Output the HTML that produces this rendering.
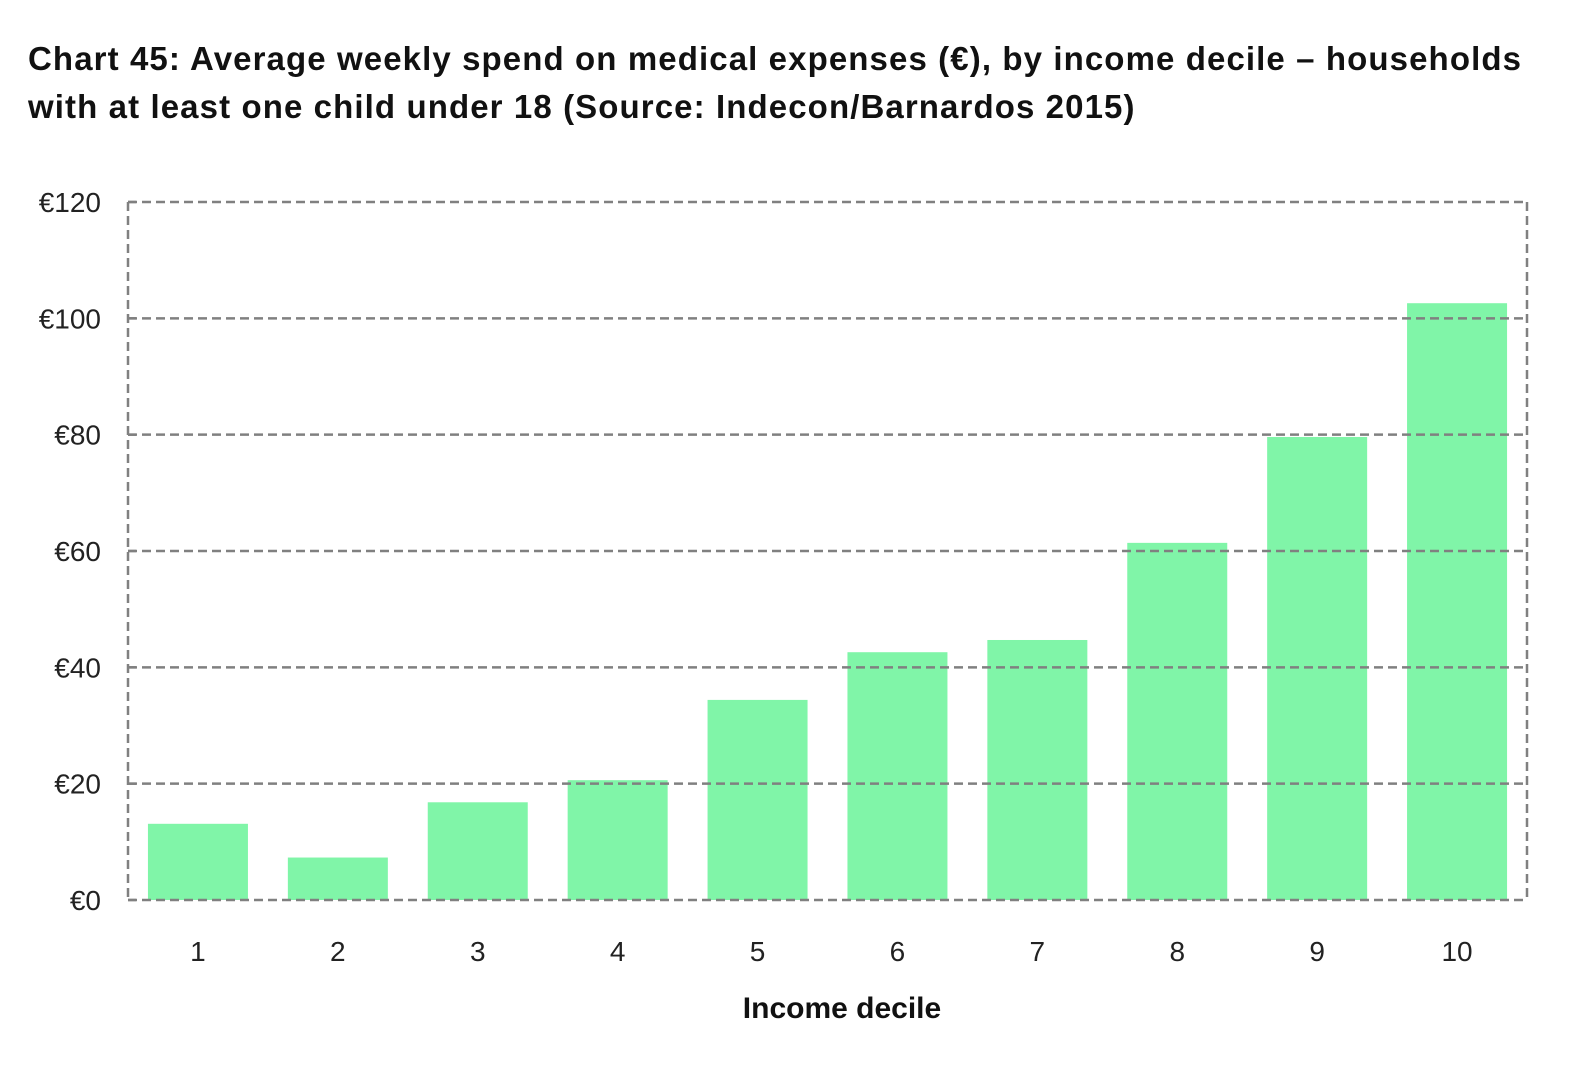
<!DOCTYPE html>
<html><head><meta charset="utf-8"><style>
body{margin:0;background:#fff;width:1583px;height:1080px;overflow:hidden;font-family:"Liberation Sans",sans-serif}
#title{position:absolute;left:28px;top:35px;font-size:33px;font-weight:bold;line-height:48px;color:#111;letter-spacing:1.1px;white-space:nowrap}
</style></head><body>
<div id="title">Chart 45: Average weekly spend on medical expenses (€), by income decile – households<br>with at least one child under 18 (Source: Indecon/Barnardos 2015)</div>
<svg id="chart" width="1583" height="1080" style="position:absolute;left:0;top:0"></svg>
<script>
const categories=["1","2","3","4","5","6","7","8","9","10"];
const values=[13.1,7.3,16.8,20.6,34.4,42.6,44.7,61.4,79.6,102.6];
const yTicks=[0,20,40,60,80,100,120];
const yTickLabels=["€0","€20","€40","€60","€80","€100","€120"];
const svg=document.getElementById('chart');
const NS='http://www.w3.org/2000/svg';
const L=128,R=1527,T=202,B=900,yMax=120;
const y=v=>B-(v/yMax)*(B-T);
const slot=(R-L)/categories.length;
const x=i=>L+slot*(i+0.5);
function mk(tag,attrs){const e=document.createElementNS(NS,tag);for(const k in attrs)e.setAttribute(k,attrs[k]);svg.appendChild(e);return e;}
const dash={stroke:'#808080','stroke-width':2.5,'stroke-dasharray':'9 5',fill:'none'};
values.forEach((v,i)=>{
  const r=mk('rect',{x:x(i)-50,y:y(v),width:100,height:B-y(v),fill:'#80f5a8'});
  
  
});
yTicks.forEach((t,i)=>{
  const g=mk('line',Object.assign({x1:L,x2:R,y1:y(t),y2:y(t)},dash));
  
  
  const tk=mk('line',{x1:L,x2:L+8,y1:y(t),y2:y(t),stroke:'#808080','stroke-width':2.5});
  
  
  const tx=mk('text',{x:101,y:y(t)+10,'text-anchor':'end','font-size':28,fill:'#222','font-family':'Liberation Sans, sans-serif'});
  tx.textContent=yTickLabels[i];
  
  
});
const lf=mk('line',Object.assign({x1:L,x2:L,y1:T,y2:B},dash));


const rf=mk('line',Object.assign({x1:R,x2:R,y1:T,y2:B},dash));


categories.forEach((c,i)=>{
  const tx=mk('text',{x:x(i),y:961,'text-anchor':'middle','font-size':28,fill:'#222','font-family':'Liberation Sans, sans-serif'});
  tx.textContent=c;
  
  
});
const xt=mk('text',{x:842,y:1018,'text-anchor':'middle','font-size':30,'font-weight':'bold',fill:'#111','font-family':'Liberation Sans, sans-serif'});
xt.textContent='Income decile';


</script>
</body></html>
